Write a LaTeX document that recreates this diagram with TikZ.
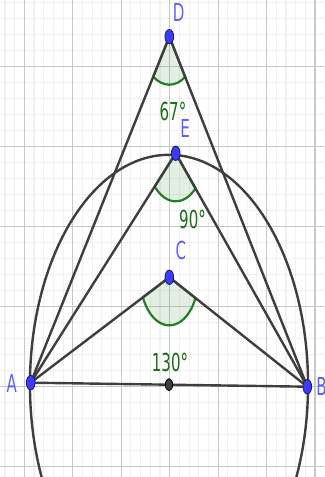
\documentclass[tikz,border=0pt]{standalone}
\usepackage{fontspec}
\setmainfont{DejaVu Sans}
\usetikzlibrary{positioning,calc}
\definecolor{ggblue}{RGB}{60,60,255}
\definecolor{ggedge}{RGB}{25,25,110}
\definecolor{gglbl}{RGB}{95,95,255}
\definecolor{gggreen}{RGB}{35,125,35}
\definecolor{ggtext}{RGB}{25,110,25}
\definecolor{ggline}{RGB}{62,62,62}
\definecolor{mgridc}{RGB}{240,240,240}
\definecolor{Mgridc}{RGB}{200,200,200}
\newcommand{\tall}[1]{\scalebox{1}[1.653]{#1}}
\tikzset{
  mgrid/.style   = {draw=mgridc, line width=1.1pt},
  Mgrid/.style   = {draw=Mgridc, line width=1.3pt},
  seg/.style     = {draw=ggline, line width=2.4pt},
  ring/.style    = {draw=ggline, line width=2.4pt},
  angsec/.style  = {draw=gggreen, line width=2.2pt, fill=gggreen,
                    fill opacity=0.12, draw opacity=1},
  bdot/.style    = {draw=ggedge, fill=ggblue, line width=0.8pt},
  gdot/.style    = {draw=black, fill=ggline, line width=0.8pt},
  plbl/.style    = {text=gglbl, inner sep=0pt, font=\fontsize{15}{15}\selectfont},
  albl/.style    = {text=ggtext, inner sep=0pt, font=\fontsize{15}{15}\selectfont},
}

\begin{document}
\begin{tikzpicture}[x=48.45pt, y=80.1pt]
  \useasboundingbox (-3.5026,-1.1273) rectangle (3.1847,4.8277);
  \clip (-3.5026,-1.1273) rectangle (3.1847,4.8277);
  \draw[mgrid] (-4,-2) grid[step=0.2] (4,5);
  \draw[Mgrid] (-4,-2) grid[step=1] (4,5);
  \coordinate (A) at (-2.869,0.05);
  \coordinate (B) at (2.84,0);
  \coordinate (C) at (-0.008,1.366);
  \coordinate (E) at (0.124,2.914);
  \coordinate (D) at (-0.008,4.37);
  \coordinate (M) at ($(A)!0.5!(B)$);
  % angle sectors
  \filldraw[angsec] (D) -- ++(236.48:0.6) arc[start angle=236.48, end angle=303.1, radius=0.6] -- cycle;
  \filldraw[angsec] (E) -- ++(223.74:0.6) arc[start angle=223.74, end angle=313.0, radius=0.6] -- cycle;
  \filldraw[angsec] (C) -- ++(204.7:0.6) arc[start angle=204.7, end angle=334.38, radius=0.6] -- cycle;
  \draw[ring] (M) circle[radius=2.87];
  \draw[seg] (A) -- (B);
  \draw[seg] (A) -- (D) -- (B);
  \draw[seg] (A) -- (E) -- (B);
  \draw[seg] (A) -- (C) -- (B);
  \foreach \p in {A,B,C,D,E}
    \filldraw[bdot] (\p) circle[radius=0.09];
  \filldraw[gdot] (M) circle[radius=0.075];
  \node[plbl] (lD) at (0.186,4.672) {\tall{D}};
  \node[plbl] (lE) at (0.316,3.226) {\tall{E}};
  \node[plbl] (lC) at (0.229,1.697) {\tall{C}};
  \node[plbl] (lA) at (-3.261,0.042) {\tall{A}};
  \node[plbl] (lB) at (3.133,0.009) {\tall{B}};
  \node[albl] (aD) at (0.068,3.433) {\tall{67°}};
  \node[albl] (aE) at (0.471,2.091) {\tall{90°}};
  \node[albl] (aC) at (0.006,0.306) {\tall{130°}};
\end{tikzpicture}
\end{document}
